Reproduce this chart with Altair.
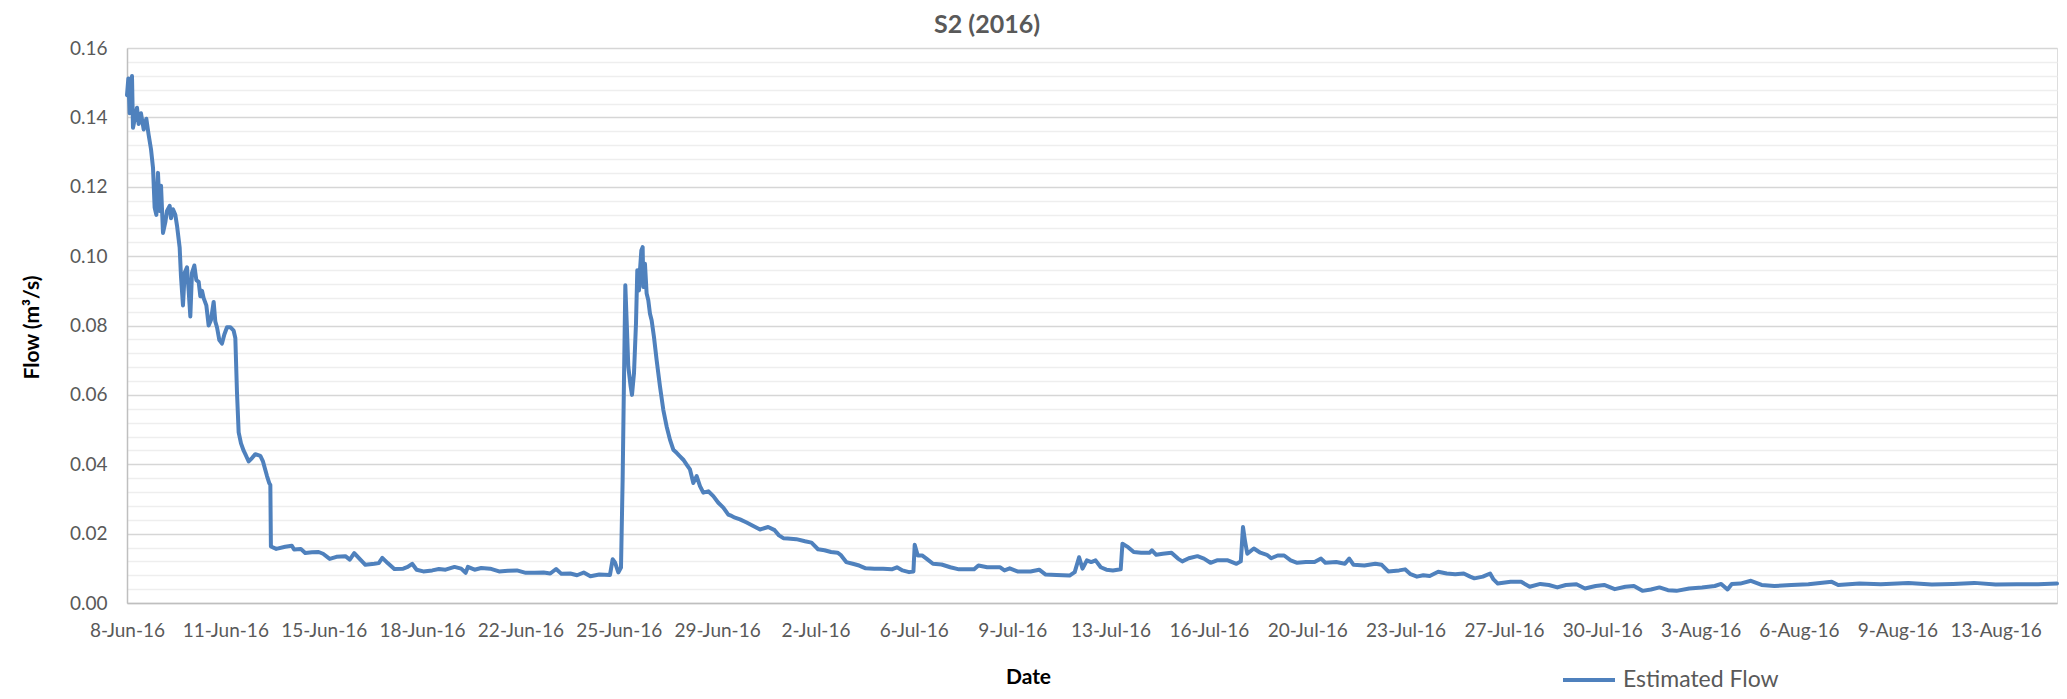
import json
import altair as alt
import pandas as pd

# ---- data (days since 2016-06-08 00:00, flow m3/s) ----
DAYS_FROM_8_JUN = [
    0.720, 0.767, 0.814, 0.860, 0.895, 0.930, 1.071, 1.129, 1.211, 1.305,
    1.398, 1.480, 1.562, 1.632, 1.690, 1.749, 1.807, 1.866, 1.913, 1.983,
    2.065, 2.123, 2.217, 2.263, 2.333, 2.415, 2.474, 2.567, 2.614, 2.684,
    2.743, 2.825, 2.883, 2.941, 3.000, 3.082, 3.152, 3.234, 3.292, 3.351,
    3.409, 3.503, 3.584, 3.666, 3.760, 3.818, 3.877, 3.959, 4.052, 4.134,
    4.228, 4.344, 4.461, 4.520, 4.578, 4.637, 4.719, 4.812, 4.871, 4.988,
    5.104, 5.221, 5.397, 5.490, 5.631, 5.712, 5.748,
    5.768, 5.956, 6.269, 6.503, 6.581, 6.816, 6.972, 7.206, 7.441, 7.597,
    7.832, 8.066, 8.379, 8.535, 8.691, 8.848, 9.082, 9.395, 9.551, 9.676,
    9.863, 10.098, 10.410, 10.567, 10.723, 10.879, 11.114, 11.427, 11.661, 11.895,
    12.208, 12.442, 12.599, 12.677, 12.911, 13.146, 13.458, 13.771, 14.084, 14.396,
    14.709, 15.021, 15.334, 15.568, 15.772, 15.959, 16.272, 16.506, 16.741, 16.975,
    17.288,
    17.662, 17.755, 17.837, 17.954, 18.048, 18.106, 18.153, 18.200, 18.246, 18.305,
    18.387, 18.434, 18.504, 18.574, 18.620, 18.679, 18.714, 18.761, 18.808, 18.831,
    18.889, 18.948, 19.006, 19.065, 19.123, 19.205, 19.299, 19.416, 19.532, 19.649,
    19.766, 19.883, 20.000, 20.117, 20.234, 20.351, 20.468, 20.585, 20.702, 20.819,
    20.935, 21.111, 21.286, 21.462, 21.637, 21.812, 21.929, 22.046, 22.222, 22.455,
    22.689, 22.923,
    23.210, 23.438, 23.590, 23.742, 23.894, 24.199, 24.503, 24.731, 24.959, 25.187,
    25.415, 25.644, 25.750, 25.948, 26.176, 26.404, 26.632, 26.937, 27.241, 27.545,
    27.728, 27.925, 28.153, 28.306, 28.351, 28.458, 28.610, 28.762, 28.990, 29.294,
    29.599, 29.903, 30.435, 30.587, 30.892, 31.348, 31.500, 31.683, 31.956, 32.413,
    32.717, 32.945, 33.325, 33.782, 33.964, 34.117, 34.238, 34.390, 34.542, 34.695,
    34.877, 35.075, 35.303, 35.577, 35.638, 35.835, 36.033, 36.292, 36.596, 36.672,
    36.824, 37.052, 37.357, 37.585, 37.737, 37.965, 38.269, 38.497, 38.726, 38.954,
    39.334, 39.638, 39.790, 39.866, 39.942, 40.018, 40.247, 40.475, 40.703, 40.855,
    41.083, 41.311, 41.539, 41.767, 42.072, 42.376, 42.604, 42.756, 43.137, 43.441,
    43.593, 43.745, 44.125, 44.506, 44.734, 44.962, 45.343,
    45.550, 45.744, 45.968, 46.192, 46.416, 46.714, 47.013, 47.311, 47.610, 47.834,
    47.983, 48.281, 48.535, 48.654, 48.804, 49.251, 49.625, 49.923, 50.296, 50.595,
    50.893, 51.192, 51.565, 51.863, 52.236, 52.535, 52.908, 53.281, 53.580, 53.878,
    54.177, 54.475, 54.774, 55.072, 55.520, 55.968, 56.416, 56.640, 56.863, 57.013,
    57.311, 57.684, 58.058, 58.505, 59.102, 59.699, 60.520, 60.744, 61.490, 62.237,
    63.207, 64.028, 64.774, 65.520, 66.267, 67.013, 67.759, 68.420,
]

FLOW = [
    0.1464, 0.1512, 0.1412, 0.1485, 0.1519, 0.1370, 0.1428, 0.1381, 0.1412, 0.1365,
    0.1396, 0.1349, 0.1308, 0.1255, 0.1140, 0.1119, 0.1240, 0.1130, 0.1203, 0.1067,
    0.1098, 0.1130, 0.1145, 0.1109, 0.1135, 0.1119, 0.1088, 0.1025, 0.0941, 0.0858,
    0.0952, 0.0968, 0.0900, 0.0826, 0.0952, 0.0973, 0.0931, 0.0926, 0.0884, 0.0900,
    0.0879, 0.0858, 0.0800, 0.0816, 0.0868, 0.0811, 0.0795, 0.0758, 0.0748, 0.0774,
    0.0795, 0.0795, 0.0785, 0.0764, 0.0607, 0.0492, 0.0460, 0.0439, 0.0429, 0.0408,
    0.0418, 0.0429, 0.0424, 0.0408, 0.0366, 0.0345, 0.0340,
    0.0163, 0.0156, 0.0162, 0.0165, 0.0154, 0.0156, 0.0144, 0.0146, 0.0147, 0.0142,
    0.0127, 0.0133, 0.0135, 0.0125, 0.0144, 0.0130, 0.0110, 0.0113, 0.0115, 0.0130,
    0.0115, 0.0098, 0.0099, 0.0104, 0.0113, 0.0096, 0.0091, 0.0094, 0.0098, 0.0096,
    0.0104, 0.0099, 0.0087, 0.0104, 0.0096, 0.0101, 0.0099, 0.0091, 0.0093, 0.0094,
    0.0087, 0.0087, 0.0088, 0.0085, 0.0098, 0.0084, 0.0085, 0.0080, 0.0088, 0.0077,
    0.0082,
    0.0081, 0.0126, 0.0117, 0.0088, 0.0102, 0.0356, 0.0643, 0.0916, 0.0815, 0.0681,
    0.0624, 0.0600, 0.0662, 0.0806, 0.0959, 0.0901, 0.0959, 0.1016, 0.1026, 0.0911,
    0.0978, 0.0892, 0.0873, 0.0834, 0.0815, 0.0767, 0.0700, 0.0624, 0.0557, 0.0509,
    0.0471, 0.0442, 0.0433, 0.0423, 0.0413, 0.0399, 0.0385, 0.0346, 0.0366, 0.0337,
    0.0318, 0.0322, 0.0308, 0.0289, 0.0275, 0.0255, 0.0251, 0.0246, 0.0241, 0.0232,
    0.0222, 0.0212,
    0.0219, 0.0210, 0.0195, 0.0187, 0.0186, 0.0184, 0.0178, 0.0174, 0.0155, 0.0152,
    0.0147, 0.0145, 0.0139, 0.0118, 0.0113, 0.0108, 0.0100, 0.0099, 0.0099, 0.0097,
    0.0103, 0.0094, 0.0089, 0.0091, 0.0168, 0.0137, 0.0137, 0.0128, 0.0113, 0.0111,
    0.0103, 0.0097, 0.0097, 0.0108, 0.0103, 0.0103, 0.0094, 0.0100, 0.0091, 0.0091,
    0.0096, 0.0082, 0.0081, 0.0079, 0.0089, 0.0132, 0.0099, 0.0123, 0.0118, 0.0123,
    0.0103, 0.0096, 0.0094, 0.0097, 0.0171, 0.0161, 0.0147, 0.0145, 0.0145, 0.0152,
    0.0139, 0.0142, 0.0145, 0.0128, 0.0120, 0.0129, 0.0135, 0.0128, 0.0116, 0.0123,
    0.0123, 0.0113, 0.0120, 0.0219, 0.0176, 0.0142, 0.0157, 0.0145, 0.0139, 0.0129,
    0.0137, 0.0137, 0.0123, 0.0116, 0.0118, 0.0118, 0.0128, 0.0116, 0.0118, 0.0113,
    0.0128, 0.0110, 0.0108, 0.0113, 0.0110, 0.0091, 0.0094,
    0.0097, 0.0083, 0.0076, 0.0080, 0.0078, 0.0090, 0.0085, 0.0083, 0.0085, 0.0076,
    0.0071, 0.0076, 0.0085, 0.0068, 0.0056, 0.0061, 0.0061, 0.0047, 0.0055, 0.0052,
    0.0045, 0.0052, 0.0054, 0.0042, 0.0049, 0.0052, 0.0040, 0.0047, 0.0049, 0.0035,
    0.0039, 0.0045, 0.0037, 0.0035, 0.0042, 0.0045, 0.0049, 0.0055, 0.0039, 0.0055,
    0.0056, 0.0064, 0.0052, 0.0049, 0.0052, 0.0054, 0.0061, 0.0052, 0.0056, 0.0054,
    0.0058, 0.0053, 0.0055, 0.0058, 0.0053, 0.0054, 0.0054, 0.0056,
]

SERIES_NAME = "Estimated Flow"

X_TICK_LABELS = [
    "8-Jun-16", "11-Jun-16", "15-Jun-16", "18-Jun-16", "22-Jun-16", "25-Jun-16",
    "29-Jun-16", "2-Jul-16", "6-Jul-16", "9-Jul-16", "13-Jul-16", "16-Jul-16",
    "20-Jul-16", "23-Jul-16", "27-Jul-16", "30-Jul-16", "3-Aug-16", "6-Aug-16",
    "9-Aug-16", "13-Aug-16",
]
FIRST_TICK_DAY = 0.72
TICK_STEP_DAYS = 3.45
LAST_DAY = 68.42

Y_TICK_LABELS = ["0.00", "0.02", "0.04", "0.06", "0.08", "0.10", "0.12", "0.14", "0.16"]
Y_MAX = 0.16
Y_MINOR_STEP = 0.004

# ---- build table ----
BASE_MS = int(pd.Timestamp("2016-06-08", tz="UTC").value // 10**6)
DAY_MS = 86400000


def to_ms(d):
    return BASE_MS + d * DAY_MS


df = pd.DataFrame({
    "t": [to_ms(d) for d in DAYS_FROM_8_JUN],
    "flow": FLOW,
    "series": [SERIES_NAME] * len(FLOW),
})

x_tick_values = [to_ms(FIRST_TICK_DAY + k * TICK_STEP_DAYS) for k in range(len(X_TICK_LABELS))]
x_label_expr = (
    f"{json.dumps(X_TICK_LABELS)}[round((datum.value - {to_ms(FIRST_TICK_DAY)}) / {TICK_STEP_DAYS * DAY_MS})]"
)
n_minor = int(round(Y_MAX / Y_MINOR_STEP))
y_values = [round(i * Y_MINOR_STEP, 4) for i in range(n_minor + 1)]
y_label_expr = (
    f"round(datum.value * 250) % 5 == 0 ? {json.dumps(Y_TICK_LABELS)}[round(datum.value * 50)] : ''"
)

FONT = "Lato"
LABEL_COLOR = "#595959"
LINE_COLOR = "#4f81bd"

x_axis = alt.Axis(
    values=x_tick_values,
    labelExpr=x_label_expr,
    labelFont=FONT,
    labelFontSize=19,
    labelColor=LABEL_COLOR,
    labelPadding=18,
    labelOverlap=False,
    labelFlush=False,
    ticks=False,
    tickSize=0,
    grid=False,
    domainColor="#bfbfbf",
    domainWidth=1.5,
    title="Date",
    titleFont=FONT,
    titleFontSize=21,
    titleFontWeight="bold",
    titleColor="#000000",
    titleX=901,
    titleY=74,
    titleAlign="center",
    titleBaseline="middle",
)

y_axis = alt.Axis(
    values=y_values,
    labelExpr=y_label_expr,
    labelFont=FONT,
    labelFontSize=19,
    labelColor=LABEL_COLOR,
    labelPadding=20,
    labelOverlap=False,
    ticks=False,
    tickSize=0,
    grid=True,
    gridColor={
        "condition": {"test": "round(datum.value * 250) % 5 == 0", "value": "#d6d6d6"},
        "value": "#eeeeee",
    },
    gridWidth=1.5,
    domainColor="#bfbfbf",
    domainWidth=1.5,
    title="Flow (m³/s)",
    titleFont=FONT,
    titleFontSize=21,
    titleFontWeight="bold",
    titleColor="#000000",
    titleX=-95,
    titleY=279,
    titleAlign="center",
    titleBaseline="middle",
    titleAngle=270,
)

chart = (
    alt.Chart(df)
    .mark_line(strokeWidth=4, strokeJoin="round", strokeCap="round")
    .encode(
        x=alt.X(
            "t:T",
            scale=alt.Scale(type="utc", domain=[to_ms(FIRST_TICK_DAY), to_ms(LAST_DAY)], nice=False),
            axis=x_axis,
        ),
        y=alt.Y(
            "flow:Q",
            scale=alt.Scale(domain=[0, Y_MAX], nice=False, zero=True),
            axis=y_axis,
        ),
        color=alt.Color(
            "series:N",
            scale=alt.Scale(domain=[SERIES_NAME], range=[LINE_COLOR]),
            legend=alt.Legend(
                title=None,
                orient="none",
                legendX=1434,
                legendY=604,
                symbolType="stroke",
                symbolSize=2704,
                symbolStrokeWidth=4,
                labelFont=FONT,
                labelFontSize=23,
                labelColor=LABEL_COLOR,
                labelOffset=6,
                padding=0,
            ),
        ),
    )
    .properties(
        width=1930,
        height=555,
        autosize=alt.AutoSizeParams(type="none"),
        padding={"left": 119, "top": 40, "right": 2, "bottom": 88},
        title=alt.TitleParams(
            "S2 (2016)",
            anchor="middle",
            frame="group",
            dx=-105,
            offset=-24,
            baseline="bottom",
            font=FONT,
            fontSize=25,
            fontWeight="bold",
            color=LABEL_COLOR,
        ),
    )
    .configure_view(stroke="#c4d79b", strokeWidth=1.5)
    .configure(background="white")
)

chart.save("out.html", embed_options={"renderer": "svg", "actions": False})
